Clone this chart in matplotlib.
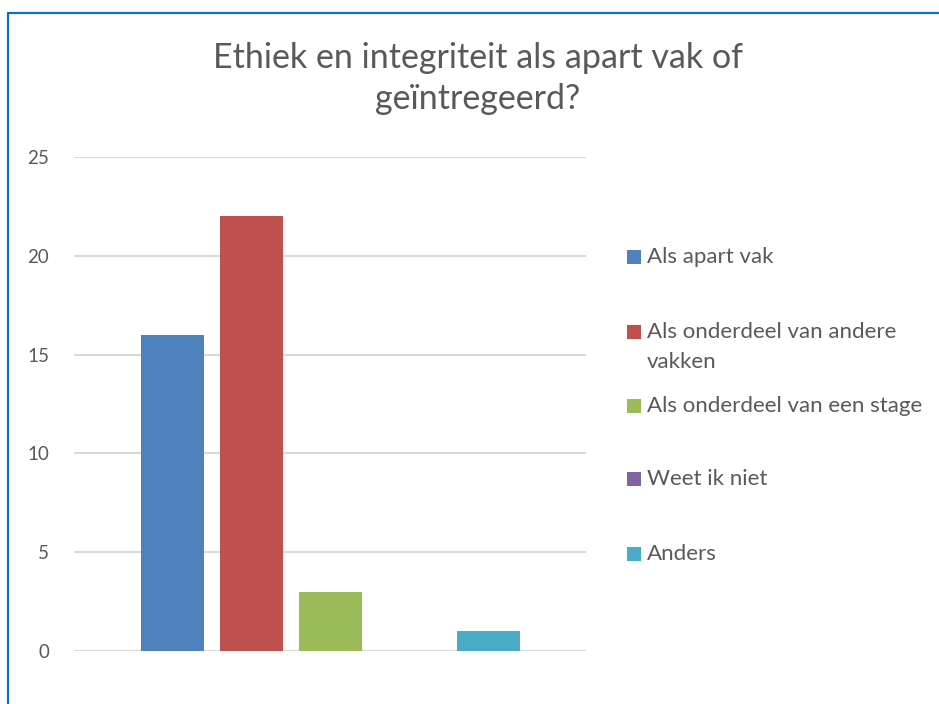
import matplotlib.pyplot as plt
from matplotlib.patches import Rectangle

# Data
categories = ['Als apart vak', 'Als onderdeel van andere\nvakken', 'Als onderdeel van een stage',
              'Weet ik niet', 'Anders']
values = [16, 22, 3, 0, 1]
colors = ['#4F81BD', '#C0504D', '#9BBB59', '#8064A2', '#4BACC6']
y_ticks = [0, 5, 10, 15, 20, 25]
title = 'Ethiek en integriteit als apart vak of\ngeïntregeerd?'

plt.rcParams['font.family'] = ['Lato', 'DejaVu Sans']
text_col = '#595959'

W, H = 939, 704
fig = plt.figure(figsize=(W / 100, H / 100), dpi=100)


def px(x, y):
    # pixel position (from top left) -> figure fraction
    return x / W, 1 - y / H


# plot area in pixel coordinates
left, right, top, bottom = 74, 586, 157, 651
ax = fig.add_axes([left / W, 1 - bottom / H, (right - left) / W, (bottom - top) / H])

# one category with 5 series, bar width 63px and gap 16px over 512px
bar_w = 63 / 512
gap = 16 / 512
start = (1 - (5 * bar_w + 4 * gap)) / 2
for i, (val, col) in enumerate(zip(values, colors)):
    x = start + i * (bar_w + gap) + bar_w / 2
    ax.bar(x, val, width=bar_w, color=col, zorder=3)

ax.set_xlim(0, 1)
ax.set_ylim(0, 25)
ax.set_yticks(y_ticks)
ax.set_xticks([])
ax.yaxis.grid(True, color='#d9d9d9', linewidth=1.5, zorder=0)
ax.tick_params(axis='y', length=0, pad=18, labelsize=13.5, labelcolor=text_col)
for s in ax.spines.values():
    s.set_visible(False)

# title, one line at a time
for line, base in zip(title.split('\n'), [68, 109]):
    fig.text(*px(478, base), line, ha='center', va='baseline', fontsize=24.5, color=text_col)

# legend drawn by hand so the markers line up with the first text line
baselines = [263, 338, 412, 485, 560]
for cat, col, base in zip(categories, colors, baselines):
    fig.patches.append(Rectangle(px(627, base + 1), 14 / W, 14 / H, transform=fig.transFigure,
                                 facecolor=col, edgecolor='none', figure=fig))
    for j, line in enumerate(cat.split('\n')):
        fig.text(*px(647, base + 30 * j), line, ha='left', va='baseline', fontsize=16,
                 color=text_col)

# blue frame around the chart
fig.patches.append(Rectangle((8 / W, -0.1), 1.2, 1 - 13 / H + 0.1, transform=fig.transFigure,
                             fill=False, edgecolor='#0A72C4', linewidth=1.6, figure=fig))

fig.savefig('out.png', dpi=100)
